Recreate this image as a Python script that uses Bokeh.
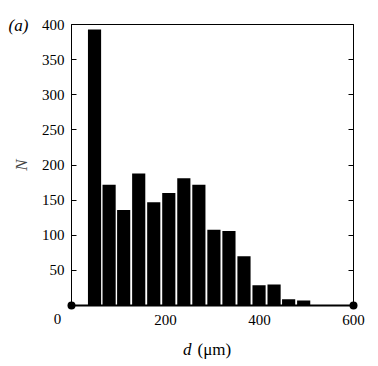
from bokeh.plotting import figure
from bokeh.models import Range1d, FixedTicker, LinearAxis
from bokeh.core.properties import value
from bokeh.embed import file_html
from bokeh.resources import INLINE

# ---- data ----
bin_centers = [49, 80, 111, 143, 175, 207, 239, 271, 303, 335, 367, 399, 431, 462, 494]
counts = [393, 172, 136, 188, 147, 160, 181, 172, 108, 106, 70, 29, 30, 9, 7]
bar_width = 28
x_ticks = [0, 200, 400, 600]
y_ticks = [50, 100, 150, 200, 250, 300, 350, 400]
x_limits = (0, 600)
y_limits = (0, 400)
panel_tag = "(a)"
y_title = "N"
x_title_var = "d"
x_title_unit = "(μm)"

FONT = "Liberation Serif"

p = figure(frame_width=282, frame_height=281,
           x_range=Range1d(*x_limits), y_range=Range1d(*y_limits),
           output_backend="svg", toolbar_location=None,
           min_border_left=71, min_border_right=17, min_border_top=24, min_border_bottom=55)
p.background_fill_color = "white"
p.border_fill_color = "white"
p.outline_line_color = "black"
p.outline_line_width = 1
p.grid.visible = False

# bars
p.vbar(x=bin_centers, top=counts, width=bar_width, bottom=0,
       fill_color="black", line_color=None)

# dots at both ends of the x axis line
p.scatter(x=list(x_limits), y=[y_limits[0], y_limits[0]], size=8,
          fill_color="black", line_color=None, level="overlay")

# x axis
xa = p.xaxis[0]
xa.ticker = FixedTicker(ticks=x_ticks)
xa.major_tick_line_color = None
xa.minor_tick_line_color = None
xa.axis_line_width = 2
xa.axis_line_color = "black"
xa.major_label_text_font = FONT
xa.major_label_text_font_size = "15px"
xa.major_label_text_color = "black"
xa.major_label_standoff = 3
xa.major_label_overrides = {x_ticks[0]: ""}

# the "0" tick label sits left of its tick in the reference
p.text(x=[x_ticks[0]], y=[y_limits[0]], text=[str(x_ticks[0])], x_offset=-14, y_offset=13,
       text_align="center", text_baseline="middle", text_font=value(FONT),
       text_font_size="15px", text_color="black", level="overlay")

# y axis (left)
ya = p.yaxis[0]
ya.ticker = FixedTicker(ticks=y_ticks)
ya.major_tick_in = 5
ya.major_tick_out = 0
ya.minor_tick_line_color = None
ya.axis_line_color = "black"
ya.major_label_text_font = FONT
ya.major_label_text_font_size = "15px"
ya.major_label_text_color = "black"
ya.major_label_standoff = 7
ya.axis_label = y_title
ya.axis_label_text_font = FONT
ya.axis_label_text_font_style = "italic"
ya.axis_label_text_font_size = "17px"
ya.axis_label_standoff = 8

# right axis with inward ticks, no labels
ra = LinearAxis(ticker=FixedTicker(ticks=y_ticks), major_tick_in=5, major_tick_out=0,
                minor_tick_line_color=None, major_label_text_font_size="0px",
                axis_line_color="black")
ra.major_label_text_alpha = 0
p.add_layout(ra, "right")

# x title: italic d + upright unit
xmid = (x_limits[0] + x_limits[1]) / 2
p.text(x=[xmid], y=[y_limits[0]], text=[x_title_var], x_offset=-21, y_offset=44,
       text_align="right", text_baseline="middle", text_font=value(FONT),
       text_font_style="italic", text_font_size="17px", text_color="black", level="overlay")
p.text(x=[xmid], y=[y_limits[0]], text=[x_title_unit], x_offset=-15, y_offset=44,
       text_align="left", text_baseline="middle", text_font=value(FONT),
       text_font_size="17px", text_color="black", level="overlay")

# panel tag
p.text(x=[x_limits[0]], y=[y_limits[1]], text=[panel_tag], x_offset=-63, y_offset=1,
       text_align="left", text_baseline="middle", text_font=value(FONT),
       text_font_style="italic", text_font_size="17px", text_color="black", level="overlay")

open("out.html", "w").write(file_html(p, INLINE))
